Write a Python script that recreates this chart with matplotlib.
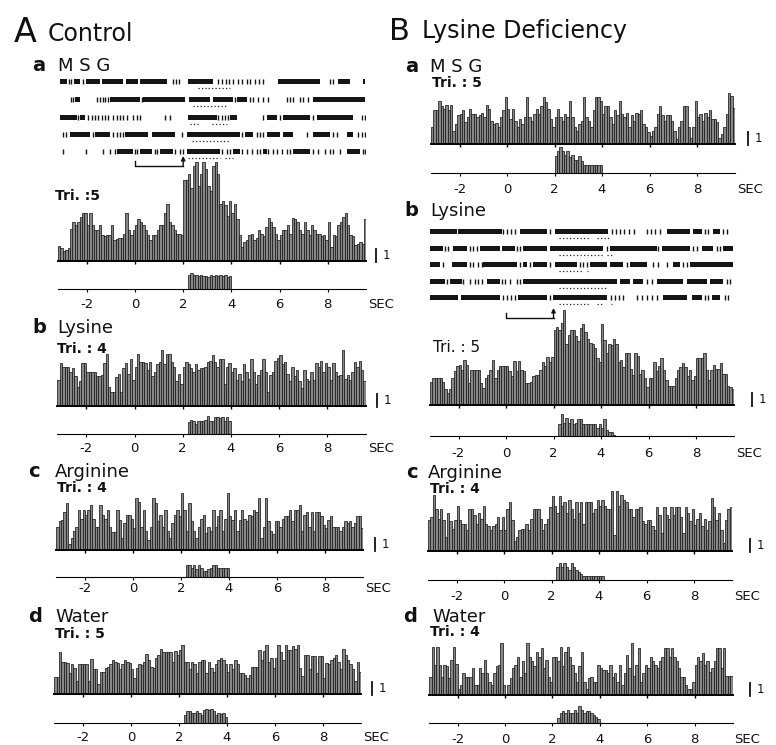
import numpy as np
import matplotlib
matplotlib.use("Agg")
import matplotlib.pyplot as plt

plt.rcParams['font.family'] = 'DejaVu Sans'

W, H = 776, 745
PX = 13.0            # pixels for one unit of the "| 1" scale bar
T0, DT = -3.2, 0.1   # first bin edge, bin width (s)
TICKS = [-2, 0, 2, 4, 6, 8]
TICK_LABELS = ['-2', '0', '2', '4', '6', '8']

# ---------------- PSTH data (0.1 s bins from -3.2 s) ----------------
ctrl_msg_psth = [
    1.15, 1.0, 0.8, 0.85, 1.0, 2.5, 3.0, 2.8,
    3.0, 3.4, 3.7, 3.7, 2.8, 3.7, 2.8, 2.4,
    2.4, 2.8, 2.0, 1.9, 2.0, 2.0, 2.8, 1.6,
    1.7, 1.8, 1.8, 2.1, 3.7, 2.4, 2.0, 2.4,
    2.8, 3.2, 3.0, 2.8, 2.4, 2.0, 1.6, 2.0,
    2.0, 2.4, 2.8, 2.8, 3.7, 4.4, 3.0, 2.8,
    2.4, 2.1, 2.1, 2.0, 6.2, 6.2, 6.7, 5.6,
    7.3, 7.6, 5.8, 6.7, 7.6, 7.1, 5.8, 5.4,
    7.3, 7.6, 6.7, 4.4, 4.6, 4.3, 3.5, 4.6,
    3.7, 4.4, 3.2, 2.0, 1.1, 1.5, 1.6, 2.0,
    2.1, 1.6, 1.8, 2.4, 2.1, 1.9, 2.6, 3.3,
    3.0, 2.6, 2.1, 1.6, 2.0, 2.4, 2.4, 2.8,
    2.1, 3.3, 3.2, 3.0, 2.4, 2.1, 3.0, 2.4,
    2.0, 2.8, 2.4, 2.1, 2.1, 1.9, 2.0, 1.6,
    3.0, 1.1, 2.0, 1.9, 2.8, 3.0, 3.4, 3.7,
    2.8, 2.0, 1.9, 1.2, 1.3, 1.5, 1.3, 3.2]
ctrl_lys_psth = [
    2.0, 3.3, 3.0, 3.0, 3.0, 2.6, 2.9, 2.3,
    1.5, 1.9, 3.3, 3.3, 2.6, 2.6, 2.6, 2.6,
    2.3, 2.3, 2.4, 3.3, 4.0, 1.5, 1.1, 1.1,
    2.2, 2.5, 1.1, 2.9, 3.3, 2.5, 3.6, 2.0,
    3.0, 4.0, 3.4, 3.4, 3.3, 2.8, 3.4, 2.3,
    2.6, 3.2, 3.4, 4.3, 3.2, 4.0, 4.0, 3.4,
    3.0, 1.9, 2.5, 1.7, 3.0, 3.4, 3.2, 2.9,
    2.6, 3.2, 2.8, 2.9, 2.9, 3.0, 3.4, 3.5,
    3.9, 3.4, 3.0, 3.6, 3.6, 1.7, 3.0, 3.3,
    2.6, 2.9, 2.0, 2.5, 1.9, 3.2, 2.6, 2.1,
    3.6, 2.6, 1.7, 2.4, 2.8, 3.6, 2.6, 1.1,
    2.4, 2.6, 3.5, 3.7, 3.9, 3.2, 3.4, 2.5,
    1.9, 3.0, 2.3, 2.8, 1.9, 1.4, 2.8, 2.1,
    1.9, 2.6, 2.0, 3.3, 3.0, 3.5, 2.6, 3.3,
    3.0, 2.0, 3.3, 2.6, 2.3, 2.4, 4.3, 2.1,
    2.4, 2.0, 2.6, 3.4, 3.0, 3.5, 2.8, 1.9]
ctrl_arg_psth = [
    1.8, 2.2, 2.3, 2.9, 3.6, 0.5, 0.9, 1.5,
    1.8, 3.1, 2.4, 3.1, 2.7, 3.1, 3.5, 2.4,
    1.8, 1.8, 3.5, 2.7, 2.4, 3.1, 1.8, 1.4,
    1.4, 3.1, 2.3, 0.9, 2.1, 2.7, 2.7, 2.4,
    1.7, 4.0, 3.7, 1.8, 3.1, 1.5, 0.8, 1.8,
    4.0, 3.6, 2.2, 2.7, 1.8, 3.1, 1.5, 0.9,
    2.1, 2.7, 3.1, 2.6, 4.4, 3.1, 1.5, 3.6,
    2.2, 1.5, 0.9, 1.8, 2.4, 2.7, 1.3, 1.8,
    1.5, 3.1, 1.8, 2.6, 3.1, 1.5, 2.4, 4.4,
    2.6, 2.3, 3.1, 1.5, 2.3, 3.1, 2.4, 2.2,
    2.7, 2.6, 3.1, 2.9, 4.0, 0.9, 1.8, 4.0,
    2.2, 1.5, 1.2, 2.2, 2.2, 1.8, 2.4, 2.6,
    2.6, 3.1, 2.2, 3.1, 3.1, 3.5, 1.5, 2.7,
    2.9, 1.8, 2.9, 1.5, 2.9, 2.9, 2.6, 1.9,
    1.7, 2.3, 2.6, 1.8, 1.8, 1.8, 1.5, 1.8,
    2.2, 2.1, 2.2, 1.8, 2.1, 2.6, 2.6, 1.7]
ctrl_wat_psth = [
    1.3, 1.3, 3.2, 2.5, 2.5, 2.4, 1.6, 2.3,
    2.0, 1.0, 2.3, 2.3, 2.3, 2.3, 1.0, 2.7,
    1.9, 1.9, 0.8, 1.7, 1.7, 2.0, 2.1, 2.3,
    2.6, 2.5, 2.4, 1.9, 2.3, 2.6, 2.5, 2.4,
    1.9, 1.2, 2.0, 2.3, 2.2, 2.5, 3.1, 2.6,
    2.1, 2.0, 2.8, 3.0, 3.5, 3.2, 3.2, 3.2,
    3.2, 2.5, 3.3, 3.0, 3.4, 3.8, 2.5, 2.5,
    1.9, 2.5, 2.3, 1.6, 2.5, 2.6, 2.6, 1.6,
    2.5, 2.0, 1.7, 2.3, 2.6, 2.8, 2.6, 2.3,
    1.7, 2.3, 1.9, 2.6, 2.3, 1.6, 1.6, 1.5,
    1.2, 1.5, 2.1, 2.1, 2.1, 3.4, 2.6, 3.3,
    3.8, 2.5, 2.8, 2.0, 2.8, 3.8, 3.2, 2.6,
    3.8, 3.4, 3.4, 3.7, 3.5, 3.8, 2.0, 1.4,
    3.0, 3.0, 1.9, 2.9, 2.9, 1.6, 2.9, 2.9,
    1.2, 2.4, 2.3, 2.6, 2.8, 3.0, 2.5, 1.9,
    3.5, 3.0, 2.6, 2.3, 1.9, 1.0, 2.5, 1.7]
def_msg_psth = [
    1.3, 2.6, 2.6, 3.3, 2.9, 2.7, 3.0, 2.6,
    3.0, 1.0, 1.5, 2.2, 2.3, 2.6, 1.7, 2.1,
    2.7, 2.3, 2.3, 2.1, 2.2, 2.4, 2.1, 3.0,
    2.7, 1.8, 1.5, 1.6, 1.3, 2.1, 2.6, 3.6,
    2.7, 1.9, 2.7, 1.8, 1.3, 1.9, 1.5, 2.1,
    3.6, 2.1, 1.8, 2.3, 2.7, 2.3, 2.9, 3.6,
    3.2, 2.7, 1.9, 1.3, 2.1, 2.7, 2.1, 1.8,
    2.3, 2.1, 3.3, 2.1, 1.3, 1.0, 1.5, 1.8,
    3.6, 2.1, 1.8, 1.3, 2.6, 3.6, 3.6, 3.3,
    2.3, 2.9, 2.9, 2.1, 1.5, 2.6, 2.2, 3.3,
    2.3, 2.1, 2.4, 1.3, 2.2, 1.8, 2.4, 2.3,
    2.6, 1.5, 1.3, 0.9, 0.6, 1.0, 1.3, 2.3,
    2.9, 2.2, 1.8, 2.2, 2.2, 1.8, 1.0, 0.4,
    1.3, 1.8, 2.9, 2.9, 1.3, 0.5, 1.3, 3.3,
    2.1, 2.3, 1.8, 2.4, 2.1, 2.6, 1.9, 1.9,
    1.7, 0.5, 0.8, 1.3, 2.3, 3.9, 3.7, 2.8]
def_lys_psth = [
    1.8, 2.1, 2.1, 2.1, 2.1, 1.8, 1.2, 0.9,
    1.2, 2.1, 2.6, 3.0, 3.1, 2.7, 3.5, 3.1,
    1.7, 2.7, 2.7, 2.7, 2.7, 1.7, 1.3, 2.1,
    2.3, 2.7, 3.5, 2.1, 2.7, 3.0, 3.0, 3.0,
    3.0, 2.6, 2.2, 3.4, 2.6, 3.4, 2.7, 2.6,
    1.7, 1.7, 1.8, 2.2, 2.3, 2.3, 2.7, 3.3,
    3.0, 3.7, 3.3, 3.7, 5.8, 6.0, 5.8, 6.3,
    7.3, 4.7, 5.4, 5.8, 5.8, 5.3, 4.9, 5.9,
    6.2, 5.6, 5.1, 4.8, 4.7, 4.4, 3.6, 3.3,
    6.2, 5.0, 4.0, 4.7, 4.6, 5.1, 4.7, 3.3,
    3.5, 2.9, 4.0, 4.0, 2.8, 2.3, 4.0, 3.8,
    2.4, 2.7, 2.1, 1.4, 2.1, 2.1, 3.3, 2.6,
    3.0, 3.6, 2.7, 1.9, 1.5, 1.5, 1.5, 2.1,
    2.7, 2.9, 3.2, 2.9, 2.2, 2.7, 1.9, 2.2,
    3.6, 3.6, 3.6, 4.0, 2.7, 1.9, 2.7, 3.1,
    2.8, 2.8, 3.2, 2.4, 2.4, 1.5, 1.4, 1.2]
def_arg_psth = [
    2.4, 2.6, 4.3, 3.2, 2.5, 3.2, 2.4, 1.1,
    2.9, 2.3, 1.7, 2.4, 3.5, 2.4, 2.1, 2.1,
    1.6, 3.2, 3.2, 2.8, 2.1, 2.9, 2.5, 3.5,
    2.1, 1.9, 1.6, 1.9, 2.1, 2.6, 1.6, 2.6,
    1.6, 3.2, 3.8, 2.4, 0.8, 1.1, 1.6, 1.7,
    1.7, 2.1, 1.6, 2.5, 3.2, 3.2, 3.2, 2.5,
    1.6, 2.1, 2.5, 3.4, 4.2, 3.5, 2.9, 4.2,
    3.5, 3.8, 2.9, 3.9, 3.2, 2.5, 3.8, 2.9,
    3.8, 2.1, 3.8, 3.8, 3.8, 2.9, 3.2, 3.9,
    3.5, 3.9, 3.5, 3.2, 3.2, 4.6, 1.2, 4.6,
    3.5, 4.3, 3.9, 3.8, 3.2, 3.2, 2.6, 3.2,
    3.2, 3.4, 2.3, 2.1, 2.4, 2.4, 1.9, 1.6,
    3.4, 2.8, 1.4, 3.4, 2.8, 2.5, 3.4, 2.8,
    3.4, 3.4, 2.6, 1.4, 3.4, 2.9, 2.3, 3.2,
    2.0, 2.5, 2.9, 1.9, 2.5, 1.6, 2.3, 4.1,
    3.4, 2.4, 2.9, 1.6, 0.6, 2.4, 3.2, 3.4]
def_wat_psth = [
    1.4, 3.7, 2.3, 3.7, 2.3, 1.4, 2.3, 2.2,
    1.3, 2.7, 3.7, 2.4, 0.5, 0.8, 1.7, 1.4,
    1.4, 1.4, 2.1, 0.8, 0.8, 2.1, 1.7, 2.7,
    1.7, 1.0, 0.8, 1.7, 2.2, 2.3, 4.0, 0.8,
    0.1, 0.8, 1.3, 2.1, 2.3, 2.9, 1.4, 2.6,
    1.7, 4.0, 2.9, 2.6, 2.2, 3.3, 2.9, 3.6,
    2.1, 2.7, 1.4, 1.0, 2.9, 2.9, 2.6, 3.7,
    2.2, 3.3, 3.7, 2.9, 2.3, 1.7, 1.0, 2.2,
    3.3, 1.0, 0.5, 1.3, 1.4, 1.0, 1.0, 2.3,
    2.1, 1.9, 1.9, 1.7, 2.3, 1.4, 1.7, 1.0,
    2.3, 0.8, 1.7, 3.1, 2.1, 4.0, 1.5, 2.3,
    3.6, 1.0, 1.7, 2.3, 2.1, 2.9, 2.6, 2.3,
    2.1, 2.6, 2.9, 3.6, 3.6, 2.9, 3.6, 2.9,
    2.6, 2.1, 1.4, 1.4, 0.8, 0.5, 0.5, 1.0,
    2.3, 2.9, 2.6, 3.2, 2.3, 2.6, 1.8, 2.1,
    2.6, 3.6, 3.6, 2.1, 3.6, 1.5, 1.5, 1.5]

# ---------------- stimulus-period histograms ----------------
ctrl_msg_stim = [1.1, 1.2, 1.1, 1.1, 1.0, 1.1, 1.0, 1.0, 0.9, 1.1, 1.0, 1.1, 1.0, 1.1, 1.0, 1.1, 0.9, 1.0]
ctrl_lys_stim = [0.9, 1.1, 1.0, 0.8, 1.0, 1.0, 1.0, 1.1, 1.4, 1.0, 1.0, 1.3, 1.3, 1.2, 1.3, 1.0, 1.3, 1.0]
ctrl_arg_stim = [0.9, 0.9, 0.7, 0.9, 0.6, 0.9, 0.7, 0.5, 0.5, 0.6, 0.7, 0.9, 0.9, 0.7, 0.7, 0.7, 0.7, 0.7]
ctrl_wat_stim = [0.6, 0.9, 0.9, 0.8, 0.8, 0.9, 0.8, 0.6, 1.0, 1.1, 1.0, 1.1, 0.9, 0.6, 0.8, 0.7, 0.8, 0.5]
def_msg_stim = [1.3, 1.7, 2.0, 1.7, 1.4, 1.7, 1.2, 1.4, 1.0, 1.0, 1.3, 0.9, 0.6, 0.6, 0.6, 0.6, 0.6, 0.6, 0.6, 0.6]
def_lys_stim = [0.9, 1.7, 1.0, 1.4, 1.0, 1.3, 0.9, 1.0, 1.3, 1.3, 0.9, 0.9, 0.9, 0.9, 0.9, 0.9, 0.6, 0.9, 0.6, 1.3, 0.5, 0.3, 0.3, 0.1]
def_arg_stim = [1.0, 1.3, 1.0, 1.3, 1.0, 0.8, 1.3, 1.0, 0.8, 0.6, 0.5, 0.3, 0.3, 0.3, 0.3, 0.3, 0.3, 0.3, 0.3, 0.3]
def_wat_stim = [0.4, 0.8, 0.9, 0.8, 1.0, 0.8, 0.8, 1.0, 0.8, 1.3, 1.0, 0.8, 0.9, 0.9, 0.8, 0.6, 0.5, 0.3]
stim_start = {'Aa': 2.2, 'Ab': 2.2, 'Ac': 2.2, 'Ad': 2.2, 'Ba': 2.0, 'Bb': 2.2, 'Bc': 2.2, 'Bd': 2.2}

# ---------------- raster rows (s): dense runs, single spikes, dotted marks ----------------
ctrl_msg_blocks = [
    [(-3.11, -2.83), (-2.53, -2.28), (-2.03, -1.45), (-1.38, -0.48), (-0.37, 0.14), (0.21, 1.32),
     (2.21, 3.25), (5.95, 7.68), (8.44, 8.92), (9.45, 9.55)],
    [(-2.49, -2.28), (-1.04, 0.21), (0.35, 2.08), (2.26, 3.11), (3.25, 4.08), (4.25, 4.64), (7.40, 9.55)],
    [(-3.11, -2.42), (-2.28, -2.07), (2.21, 3.39), (3.94, 4.22), (5.47, 5.88), (6.16, 7.26), (7.54, 9.06)],
    [(-2.70, -1.87), (-1.66, -1.04), (-0.41, 0.55), (0.69, 1.66), (2.15, 4.36), (4.57, 4.91), (5.47, 6.02),
     (6.16, 6.57), (7.40, 8.09), (8.78, 9.06)],
    [(-0.76, -0.07), (0.21, 0.69), (1.04, 1.59), (2.15, 3.53), (4.08, 4.36), (5.33, 5.47), (6.57, 7.26),
     (8.78, 9.34)]]
ctrl_msg_ticks = [
    [-2.74, -2.65, -2.14, 1.56, 1.70, 1.84, 3.46, 3.60, 3.78, 3.92, 4.08, 4.29, 4.43, 4.64, 4.77, 4.98,
     5.16, 5.33, 8.09, 8.23],
    [-2.67, -2.58, -1.56, -1.45, -1.34, -1.23, -1.13, 0.28, 4.15, 4.77, 4.91, 5.12, 5.33, 5.53, 6.29,
     6.43, 6.57, 6.85, 6.99, 7.19],
    [-2.35, -1.93, -1.80, -1.66, -1.52, -1.38, -1.24, -1.10, -0.90, -0.76, -0.62, -0.48, -0.34, -0.07,
     0.07, 0.21, 1.25, 1.45, 3.46, 3.60, 3.74, 3.87, 5.33, 6.02, 7.40, 9.41, 9.55],
    [-3.00, -2.86, -1.73, -0.90, -0.76, -0.62, -0.48, 1.94, 4.43, 5.05, 5.19, 5.33, 7.12, 8.23, 8.37,
     9.27, 9.41, 9.55],
    [-2.97, -2.03, -1.31, -1.04, -0.83, 0.00, 0.10, 0.83, 0.90, 1.66, 1.87, 1.98, 3.60, 3.81, 3.94, 4.43,
     4.64, 4.84, 5.05, 5.19, 5.53, 5.74, 5.88, 6.09, 6.29, 6.43, 7.40, 7.61, 7.89, 8.09, 8.23, 8.51,
     9.45, 9.55]]
ctrl_msg_dots = [[(2.63, 2.98), (3.04, 3.94)], [(2.42, 3.81)], [(2.28, 2.70), (3.18, 3.81)],
                 [(2.35, 3.94)], [(2.21, 3.53), (3.74, 4.08)]]

def_lys_blocks = [
    [(-3.20, -2.08), (-2.01, -0.18), (0.59, 1.71), (2.06, 4.31), (6.77, 7.75), (7.89, 8.24), (8.73, 9.01)],
    [(-3.20, -2.64), (-2.22, -1.66), (-1.09, -0.25), (-0.18, 0.38), (0.73, 1.71), (1.85, 4.10),
     (4.38, 6.34), (6.55, 7.75), (8.24, 8.73), (9.15, 9.55)],
    [(-3.20, -2.78), (-2.29, -1.66), (-0.95, 0.45), (0.73, 0.87), (1.15, 1.71), (2.06, 2.98),
     (3.54, 4.24), (4.38, 4.94), (5.22, 5.92), (7.05, 7.33), (7.75, 9.55)],
    [(-3.20, -2.57), (-2.36, -1.87), (-0.81, -0.25), (0.73, 4.66), (4.80, 5.22), (5.36, 5.78),
     (6.34, 7.47), (7.61, 8.45), (8.59, 9.15)],
    [(-3.20, -2.01), (-1.91, -0.25), (0.52, 1.71), (1.99, 4.24), (6.62, 7.61), (7.82, 8.24), (8.66, 9.01)]]
def_lys_ticks = [
    [-0.11, 0.06, 0.22, 0.39, 1.85, 4.45, 4.63, 4.80, 4.97, 5.19, 5.39, 5.92, 6.09, 6.27, 6.48, 8.38,
     8.52, 9.15, 9.29],
    [-2.57, -2.43, -1.52, -1.38, -1.23, 0.45, 0.59, 4.24, 6.41, 7.89, 8.03, 8.87, 9.01],
    [-2.64, -1.52, -1.38, -1.16, -1.02, 0.59, 1.01, 1.85, 3.12, 3.26, 3.40, 5.08, 6.20, 6.41, 6.77,
     7.47, 7.61],
    [-2.50, -1.80, -1.52, -1.30, -1.16, -1.02, -0.18, -0.04, 0.17, 0.45, 0.59, 5.92, 6.13, 9.29, 9.43],
    [-0.11, 0.06, 0.22, 0.39, 1.85, 4.41, 4.59, 4.77, 4.94, 5.50, 5.71, 5.92, 6.13, 6.34, 8.38, 8.52,
     9.22, 9.36]]
def_lys_dots = [[(2.23, 3.50), (3.85, 4.34)], [(2.23, 4.10), (4.24, 4.45)], [(2.23, 3.22), (3.40, 3.47)],
                [(2.23, 4.27)], [(2.23, 3.50), (3.85, 4.06), (4.41, 4.48)]]

# ---------------- layout (pixel positions of the original) ----------------
# x0: pixel of t=0, pps: pixels per second, base/sbase: baselines, gap: label offset, sx: scale bar x
geom = {
    'Aa': dict(x0=135.0, pps=24.1, base=261, sbase=289, gap=14, sx=376),
    'Ab': dict(x0=134.5, pps=24.1, base=406, sbase=434, gap=13, sx=377),
    'Ac': dict(x0=133.0, pps=24.0, base=550, sbase=577, gap=10, sx=375),
    'Ad': dict(x0=131.0, pps=24.0, base=694, sbase=723, gap=13, sx=372),
    'Ba': dict(x0=507.0, pps=23.75, base=144, sbase=173, gap=15, sx=748),
    'Bb': dict(x0=506.0, pps=23.75, base=405, sbase=436, gap=16, sx=752),
    'Bc': dict(x0=504.0, pps=23.75, base=551, sbase=580, gap=15, sx=750),
    'Bd': dict(x0=505.0, pps=23.7, base=695, sbase=723, gap=15, sx=750),
}
psth = {'Aa': ctrl_msg_psth, 'Ab': ctrl_lys_psth, 'Ac': ctrl_arg_psth, 'Ad': ctrl_wat_psth,
        'Ba': def_msg_psth, 'Bb': def_lys_psth, 'Bc': def_arg_psth, 'Bd': def_wat_psth}
stim = {'Aa': ctrl_msg_stim, 'Ab': ctrl_lys_stim, 'Ac': ctrl_arg_stim, 'Ad': ctrl_wat_stim,
        'Ba': def_msg_stim, 'Bb': def_lys_stim, 'Bc': def_arg_stim, 'Bd': def_wat_stim}

BAR = dict(width=DT, align='edge', facecolor='#878787', edgecolor='#1c1c1c', linewidth=0.55)

fig = plt.figure(figsize=(W / 100, H / 100), dpi=100)
fig.patch.set_facecolor('white')


def rect(left, bottom, w, h):
    return [left / W, 1 - bottom / H, w / W, h / H]


def txt(x, y, s, size, weight='normal'):
    fig.text(x / W, 1 - y / H, s, fontsize=size, fontweight=weight,
             ha='left', va='baseline', color='#111111')


def panel(key):
    g = geom[key]
    left = g['x0'] + T0 * g['pps']
    width = 12.8 * g['pps']

    ax = fig.add_axes(rect(left, g['base'], width, 8 * PX))
    vals = psth[key]
    ax.bar(T0 + DT * np.arange(len(vals)), vals, **BAR)
    ax.set_xlim(T0, 9.6)
    ax.set_ylim(0, 8)
    ax.patch.set_visible(False)
    for s in ('top', 'right', 'left'):
        ax.spines[s].set_visible(False)
    ax.spines['bottom'].set_linewidth(1.4)
    ax.set_yticks([])
    ax.set_xticks(TICKS)
    ax.tick_params(axis='x', direction='out', length=2.5, width=1.0, labelbottom=False)
    # scale bar "| 1"
    sxd = (g['sx'] - g['x0']) / g['pps']
    ax.plot([sxd, sxd], [-0.1, 0.95], color='#111111', lw=1.3, clip_on=False)
    ax.text(sxd + 7 / g['pps'], 0.42, '1', fontsize=8.5, va='center', ha='left', color='#111111')

    sax = fig.add_axes(rect(left, g['sbase'], width, 2.5 * PX))
    sv = stim[key]
    sax.bar(stim_start[key] + DT * np.arange(len(sv)), sv, **BAR)
    sax.set_xlim(T0, 9.6)
    sax.set_ylim(0, 2.5)
    sax.patch.set_visible(False)
    for s in ('top', 'right', 'left'):
        sax.spines[s].set_visible(False)
    sax.spines['bottom'].set_linewidth(0.8)
    sax.set_yticks([])
    pad = max((g['gap'] - 5 - 2 * 1.389) / 1.389, 0.5)
    sax.set_xticks(TICKS)
    sax.set_xticklabels(TICK_LABELS)
    sax.tick_params(axis='x', direction='out', length=2, width=0.8, pad=pad, labelsize=9.5,
                    labelcolor='#111111')
    sax.annotate('SEC', xy=(9.68, 0), xycoords=('data', 'axes fraction'), xytext=(0, -(2 + pad)),
                 textcoords='offset points', ha='left', va='top', fontsize=9.5, color='#111111')


def raster(key, rows_y, blocks, ticks, dots, brk_y):
    g = geom[key]
    left = g['x0'] + T0 * g['pps']
    width = 12.8 * g['pps']
    top, bot = rows_y[0] - 8, brk_y + 4
    ax = fig.add_axes(rect(left, bot, width, bot - top))
    ax.set_xlim(T0, 9.6)
    ax.set_ylim(bot, top)
    ax.axis('off')
    for y, bl, tk, dt in zip(rows_y, blocks, ticks, dots):
        ax.broken_barh([(a, b - a) for a, b in bl], (y - 2.5, 5.0), facecolor='#151515')
        ax.vlines(tk, y - 2.5, y + 2.5, color='#151515', lw=1.0)
        for a, b in dt:
            ax.plot([a, b], [y + 6.5, y + 6.5], color='#222222', lw=0.9, ls=(0, (1, 1.8)))
    ax.plot([0, 0, 2], [brk_y - 5, brk_y, brk_y], color='#111111', lw=1.0)
    ax.annotate('', xy=(2, brk_y - 10), xytext=(2, brk_y),
                arrowprops=dict(arrowstyle='-|>', lw=1.0, color='#111111', mutation_scale=6,
                                shrinkA=0, shrinkB=0))


for k in geom:
    panel(k)

raster('Aa', [81, 99, 117, 134.5, 151], ctrl_msg_blocks, ctrl_msg_ticks, ctrl_msg_dots, 166)
raster('Bb', [232, 248.5, 265, 281.5, 298], def_lys_blocks, def_lys_ticks, def_lys_dots, 318)

# ---------------- titles and labels ----------------
txt(14, 42, 'A', 24)
txt(48, 41, 'Control', 17)
txt(389, 40, 'B', 22)
txt(422, 38, 'Lysine Deficiency', 17)

labels = [
    # letter (x, y), name x, name, Tri x, Tri y, Tri text, Tri weight, Tri size
    (32, 71, 58, 'M S G', 55, 200, 'Tri. :5', 'bold', 10),
    (32, 333, 57, 'Lysine', 57, 353, 'Tri. : 4', 'bold', 10),
    (28, 477, 55, 'Arginine', 57, 492, 'Tri. : 4', 'bold', 10),
    (28, 621.5, 55, 'Water', 55, 638, 'Tri. : 5', 'bold', 10),
    (405, 71.5, 430, 'M S G', 432, 87, 'Tri. : 5', 'bold', 10),
    (404, 216, 430, 'Lysine', 433, 352, 'Tri. : 5', 'normal', 11),
    (406, 478, 428, 'Arginine', 430, 493, 'Tri. : 4', 'bold', 10),
    (403, 621.5, 432, 'Water', 430, 636, 'Tri. : 4', 'bold', 10),
]
for letter, (lx, ly, nx, name, tx, ty, tri, tw, ts) in zip('abcdabcd', labels):
    txt(lx, ly, letter, 14, 'bold')
    txt(nx, ly, name, 13)
    txt(tx, ty, tri, ts, tw)

fig.savefig('out.png', dpi=100, facecolor='white')
